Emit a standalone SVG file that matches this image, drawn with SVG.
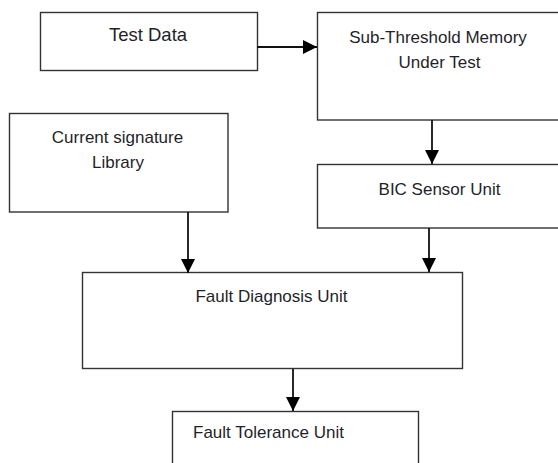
<svg xmlns="http://www.w3.org/2000/svg" width="558" height="463" viewBox="0 0 558 463">
  <defs>
    <marker id="arrow" markerUnits="userSpaceOnUse" markerWidth="14" markerHeight="14" refX="14" refY="7" orient="auto">
      <path d="M0,0 L14,7 L0,14 z" fill="#000"/>
    </marker>
  </defs>
  <style>
    .box { fill: #fff; stroke: #333; stroke-width: 1.4; }
    .lbl { font-family: "Liberation Sans", Arial, sans-serif; font-size: 17px; fill: #1f1f2a; }
    .mid { text-anchor: middle; }
    .conn { stroke: #111; stroke-width: 1.8; fill: none; marker-end: url(#arrow); }
  </style>
  <rect width="558" height="463" fill="#fff"/>
  <g id="test-data">
    <rect class="box" x="40.5" y="12.5" width="217" height="58"/>
    <text class="lbl mid" x="148" y="41" style="font-size:18.5px">Test Data</text>
  </g>
  <g id="memory-under-test">
    <rect class="box" x="317.5" y="12.5" width="250" height="107.5"/>
    <text class="lbl mid" x="438" y="43">Sub-Threshold Memory</text>
    <text class="lbl mid" x="439.5" y="68">Under Test</text>
  </g>
  <g id="signature-library">
    <rect class="box" x="9.5" y="113.5" width="218.5" height="98.5"/>
    <text class="lbl mid" x="117.5" y="143">Current signature</text>
    <text class="lbl mid" x="118" y="168">Library</text>
  </g>
  <g id="bic-sensor">
    <rect class="box" x="317.5" y="164.5" width="250" height="63.5"/>
    <text class="lbl mid" x="439.5" y="195">BIC Sensor Unit</text>
  </g>
  <g id="fault-diagnosis">
    <rect class="box" x="82.5" y="272.5" width="380" height="96"/>
    <text class="lbl mid" x="271.5" y="302">Fault Diagnosis Unit</text>
  </g>
  <g id="fault-tolerance">
    <rect class="box" x="172.5" y="411.5" width="246" height="60"/>
    <text class="lbl" x="193" y="438">Fault Tolerance Unit</text>
  </g>
  <g id="connectors">
    <path class="conn" d="M257,47 H317"/>
    <path class="conn" d="M432,120 V164"/>
    <path class="conn" d="M188,212 V273"/>
    <path class="conn" d="M429,228 V272"/>
    <path class="conn" d="M293,369 V411"/>
  </g>
</svg>
